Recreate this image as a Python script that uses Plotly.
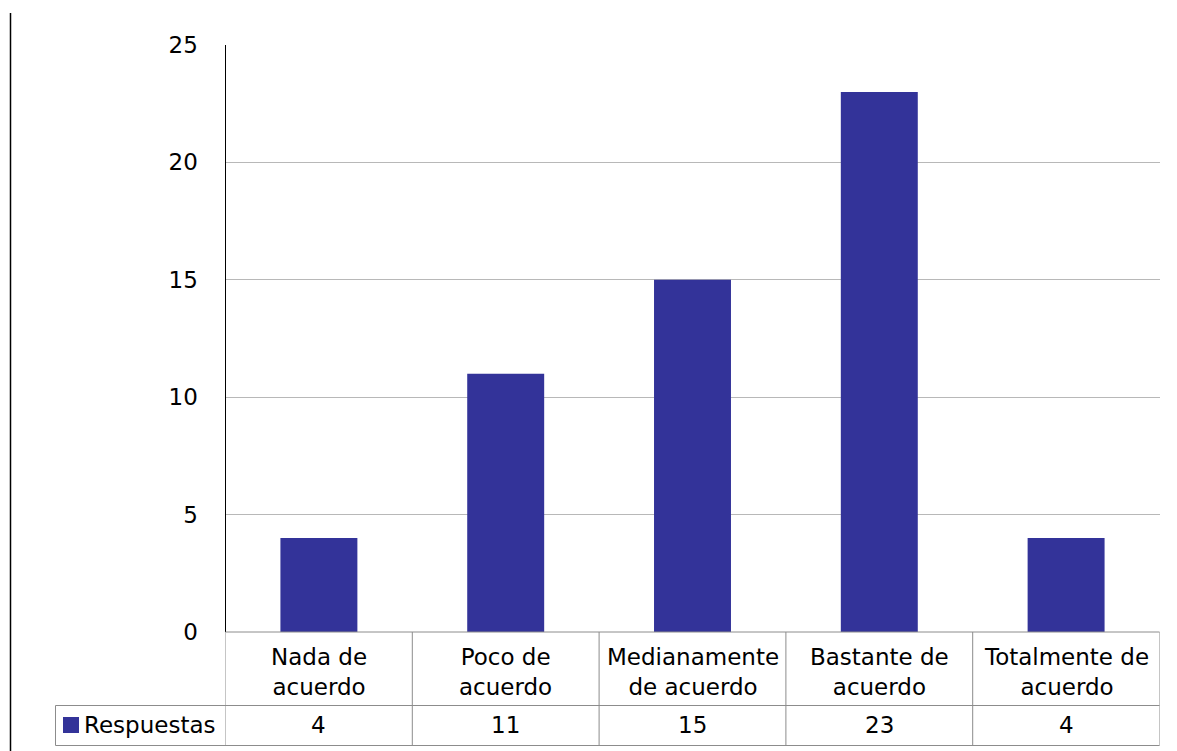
import plotly.graph_objects as go

categories = ["Nada de<br>acuerdo", "Poco de<br>acuerdo", "Medianamente<br>de acuerdo",
              "Bastante de<br>acuerdo", "Totalmente de<br>acuerdo"]
values = [4, 11, 15, 23, 4]
series_name = "Respuestas"
y_ticks = [0, 5, 10, 15, 20, 25]

W, H = 1177, 751
BAR_COLOR = "#333399"
FONT = "DejaVu Sans"
FS = 23
GRID = "#b8b8b8"
TABLE = "#8c8c8c"

def py(pix):
    return 1 - pix / H

def px(pix):
    return pix / W

x_idx = list(range(len(categories)))

fig = go.Figure()
fig.add_trace(go.Bar(x=x_idx, y=values, marker=dict(color=BAR_COLOR, line=dict(width=0)),
                     name=series_name, hoverinfo="y"))

x0p, x1p = px(225.5), px(1159.5)
y0p, y1p = py(632), py(45)

fig.update_layout(
    width=W, height=H,
    margin=dict(l=0, r=0, t=0, b=0, autoexpand=False),
    paper_bgcolor="white", plot_bgcolor="white",
    showlegend=False,
    bargap=0.588,
    font=dict(family=FONT, size=FS, color="black"),
    xaxis=dict(domain=[x0p, x1p], range=[-0.5, len(categories) - 0.5],
               showticklabels=False, showgrid=False, zeroline=False, showline=False,
               fixedrange=True, automargin=False),
    yaxis=dict(domain=[y0p, y1p], range=[0, 25], tickvals=y_ticks,
               showgrid=True, gridcolor=GRID, gridwidth=1, zeroline=False,
               showline=True, linecolor="black", linewidth=1,
               ticks="", ticklabelstandoff=22, automargin=False,
               tickfont=dict(family=FONT, size=FS, color="black"), fixedrange=True),
)

shapes = []
row1_bot = py(705.5)
row2_bot = py(745.5)
# horizontal table lines
shapes.append(dict(type="line", xref="paper", yref="paper", x0=x0p, x1=x1p, y0=y0p, y1=y0p,
                   line=dict(color=TABLE, width=1)))
for yy in (row1_bot, row2_bot):
    shapes.append(dict(type="line", xref="paper", yref="paper", x0=px(55.5), x1=x1p, y0=yy, y1=yy,
                       line=dict(color=TABLE, width=1)))
# vertical table lines at category boundaries
for i in range(len(categories) + 1):
    shapes.append(dict(type="line", xref="x", yref="paper", x0=i - 0.5, x1=i - 0.5,
                       y0=row2_bot, y1=y0p, line=dict(color=TABLE, width=1)))
# left border of series row
shapes.append(dict(type="line", xref="paper", yref="paper", x0=px(55.5), x1=px(55.5),
                   y0=row2_bot, y1=row1_bot, line=dict(color=TABLE, width=1)))
# legend key square
shapes.append(dict(type="rect", xref="paper", yref="paper", x0=px(63), x1=px(79),
                   y0=py(733), y1=py(717), fillcolor=BAR_COLOR, line=dict(width=0)))
# outer left line of the picture
shapes.append(dict(type="line", xref="paper", yref="paper", x0=px(10.5), x1=px(10.5),
                   y0=0, y1=py(13), line=dict(color="black", width=1.5)))

annotations = []
for i, (cat, v) in enumerate(zip(categories, values)):
    annotations.append(dict(x=i, xref="x", y=py(672), yref="paper", text=cat,
                            showarrow=False, xanchor="center", yanchor="middle",
                            font=dict(family=FONT, size=FS, color="black")))
    annotations.append(dict(x=i, xref="x", y=py(725), yref="paper", text=str(v),
                            showarrow=False, xanchor="center", yanchor="middle",
                            font=dict(family=FONT, size=FS, color="black")))
annotations.append(dict(x=px(82), xref="paper", y=py(725), yref="paper", text=series_name,
                        showarrow=False, xanchor="left", yanchor="middle",
                        font=dict(family=FONT, size=FS, color="black")))

fig.update_layout(shapes=shapes, annotations=annotations)
fig.write_html("out.html", config={"displayModeBar": False},
               post_script="document.body.style.margin='0';document.body.style.overflow='hidden';")
